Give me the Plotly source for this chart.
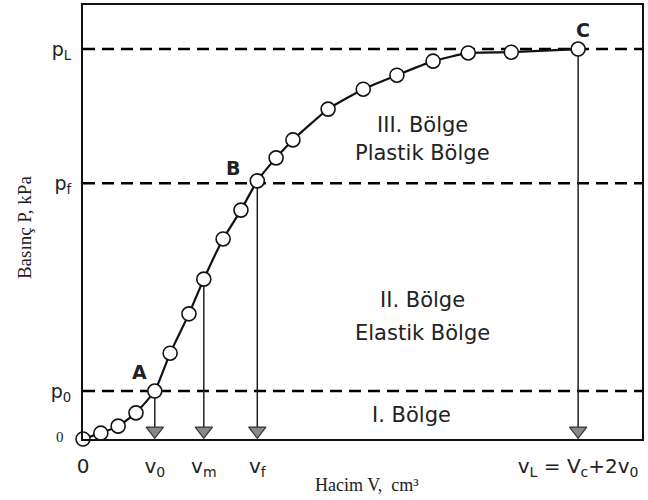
import plotly.graph_objects as go

# Pressuremeter curve data (V normalised so vL = 100, P normalised so pL = 100)
vol = [0, 3.6, 7.1, 10.7, 14.5, 17.6, 21.4, 24.4, 28.3, 31.9, 35.2, 39.0, 42.4,
       49.5, 56.6, 63.4, 70.7, 77.8, 86.5, 100]
pres = [0, 1.5, 3.3, 6.7, 12.3, 22.0, 32.1, 41.0, 51.3, 58.7, 66.2, 72.1, 76.7,
        84.6, 89.7, 93.3, 96.9, 99.0, 99.2, 100]

p_levels = [12.3, 65.6, 100]
p_labels = ["p<sub>0</sub>", "p<sub>f</sub>", "p<sub>L</sub>"]

v_marks = [0, 14.5, 24.4, 35.2, 100]
v_labels = ["0", "v<sub>0</sub>", "v<sub>m</sub>", "v<sub>f</sub>",
            "v<sub>L</sub> = V<sub>c</sub>+2v<sub>0</sub>"]
arrow_x = [14.5, 24.4, 35.2, 100]
arrow_top = [12.3, 41.0, 66.2, 100]

point_names = ["A", "B", "C"]
point_x = [14.5, 35.2, 100]
point_y = [12.3, 66.2, 100]

region_text = ["III. Bölge", "Plastik Bölge", "II. Bölge", "Elastik Bölge", "I. Bölge"]
region_x = [68.5, 68.5, 68.5, 68.5, 66.3]
region_y = [80.5, 73.3, 35.6, 27.2, 6.2]

XMAX = 112.9
YMAX = 111.3
SANS = "DejaVu Sans"
SERIF = "Liberation Serif"

fig = go.Figure()

# dashed horizontal reference lines
for p in p_levels:
    fig.add_shape(type="line", x0=0, x1=XMAX, y0=p, y1=p, xref="x", yref="y",
                  line=dict(color="black", width=2.6, dash="12px,7px"), layer="below")

# vertical arrow lines
for ax, at in zip(arrow_x, arrow_top):
    fig.add_trace(go.Scatter(x=[ax, ax], y=[at, 1.5], mode="lines",
                             line=dict(color="#222", width=1.5),
                             hoverinfo="skip", showlegend=False))
# arrow heads
fig.add_trace(go.Scatter(x=arrow_x, y=[2.1] * len(arrow_x), mode="markers",
                         marker=dict(symbol="triangle-down", size=15, color="#888",
                                     line=dict(color="#333", width=1.2)),
                         hoverinfo="skip", showlegend=False, cliponaxis=False))

# curve
fig.add_trace(go.Scatter(x=vol, y=pres, mode="lines+markers",
                         line=dict(color="#111", width=2.2, shape="spline", smoothing=0.4),
                         marker=dict(symbol="circle", size=14, color="white",
                                     line=dict(color="#111", width=1.6)),
                         cliponaxis=False, showlegend=False))

annotations = []
# point labels
offsets = [(-3.0, 5.0), (-5.0, 3.2), (1.0, 4.8)]
for n, x, y, (dx, dy) in zip(point_names, point_x, point_y, offsets):
    annotations.append(dict(x=x + dx, y=y + dy, text="<b>" + n + "</b>", showarrow=False,
                            font=dict(family=SANS, size=19, color="#222"),
                            xref="x", yref="y"))
# region labels
for t, x, y in zip(region_text, region_x, region_y):
    annotations.append(dict(x=x, y=y, text=t, showarrow=False,
                            font=dict(family=SANS, size=21, color="#222"),
                            xref="x", yref="y"))
# y-axis zero label (serif)
annotations.append(dict(x=-0.03, y=0.5, xref="paper", yref="y", text="0", showarrow=False,
                        font=dict(family=SERIF, size=15, color="#222"), xanchor="right"))
# axis titles
annotations.append(dict(x=0.508, y=-0.106, xref="paper", yref="paper",
                        xanchor="center", yanchor="middle",
                        text="Hacim V,  cm³", showarrow=False,
                        font=dict(family=SERIF, size=18, color="#222")))
annotations.append(dict(x=-0.1055, y=0.486, xref="paper", yref="paper",
                        xanchor="center", yanchor="middle",
                        text="Basınç P, kPa", showarrow=False, textangle=-90,
                        font=dict(family=SERIF, size=19, color="#222")))

fig.update_layout(
    template="none",
    width=648, height=500,
    margin=dict(l=83, r=6, t=5, b=61),
    paper_bgcolor="white", plot_bgcolor="white",
    showlegend=False,
    annotations=annotations,
    xaxis=dict(range=[0, XMAX], tickmode="array", tickvals=v_marks, ticktext=v_labels,
               showgrid=False, zeroline=False, showline=True, mirror=True, automargin=False,
               linecolor="#111", linewidth=2, ticks="", ticklabelstandoff=8,
               tickfont=dict(family=SANS, size=20, color="#222")),
    yaxis=dict(range=[0, YMAX], tickmode="array", tickvals=p_levels, ticktext=p_labels,
               showgrid=False, zeroline=False, showline=True, mirror=True, automargin=False,
               linecolor="#111", linewidth=2, ticks="", ticklabelstandoff=6,
               tickfont=dict(family=SANS, size=19, color="#222")),
)

fig.write_html("out.html", config={"displayModeBar": False},
               post_script="document.body.style.margin='0';document.body.style.overflow='hidden';")
